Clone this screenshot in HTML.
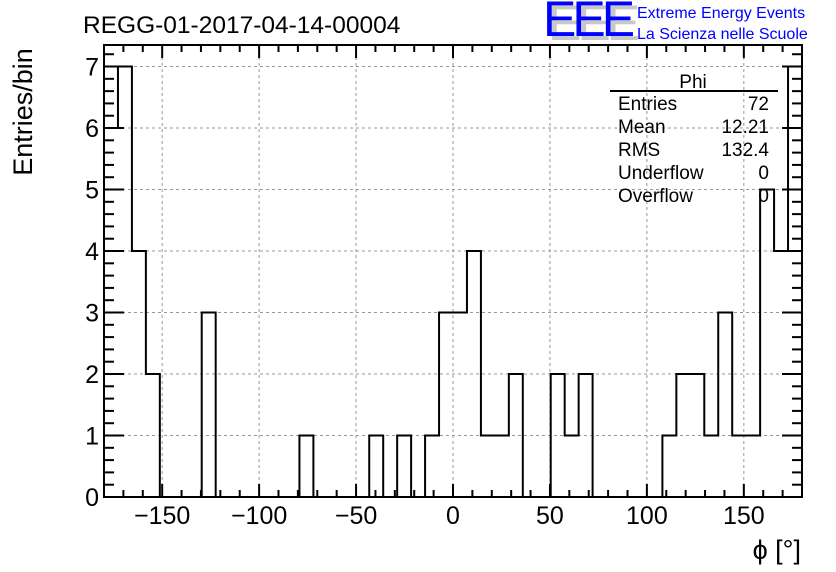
<!DOCTYPE html>
<html><head><meta charset="utf-8"><style>
body{margin:0;background:#fff;}
svg{display:block;font-family:"Liberation Sans",Arial,sans-serif;}
</style></head><body>
<svg id="chart" width="836" height="572" viewBox="0 0 836 572" xmlns="http://www.w3.org/2000/svg">
<rect x="0" y="0" width="836" height="572" fill="#fff"/>
<text x="83" y="33" font-size="24.5" fill="#000">REGG-01-2017-04-14-00004</text>
<g>
<text x="548" y="40" font-size="50" fill="#c8c8c8" letter-spacing="-4">EEE</text>
<text x="543" y="36" font-size="50" fill="#0000ff" letter-spacing="-4">EEE</text>
<text x="637" y="18" font-size="16" fill="#0000ff">Extreme Energy Events</text>
<text x="637" y="39" font-size="16" fill="#0000ff">La Scienza nelle Scuole</text>
</g>
<g id="grid"></g>
<g id="hist"></g>
<rect x="104" y="45" width="698" height="452" fill="none" stroke="#000" stroke-width="2"/>
<g id="axes"></g>
<text transform="translate(32,112) rotate(-90)" text-anchor="middle" font-size="27">Entries/bin</text>
<text x="801" y="559" text-anchor="end" font-size="27">ϕ [°]</text>
<g font-size="19">
<text x="693" y="88" text-anchor="middle">Phi</text>
<line x1="610" y1="91" x2="778" y2="91" stroke="#000" stroke-width="2"/>
<text x="618" y="110">Entries</text><text x="769" y="110" text-anchor="end">72</text>
<text x="618" y="133">Mean</text><text x="769" y="133" text-anchor="end">12.21</text>
<text x="618" y="156">RMS</text><text x="769" y="156" text-anchor="end">132.4</text>
<text x="618" y="179">Underflow</text><text x="769" y="179" text-anchor="end">0</text>
<text x="618" y="202">Overflow</text><text x="769" y="202" text-anchor="end">0</text>
</g>
</svg>
<script>
const binCounts=[6,7,4,2,0,0,0,3,0,0,0,0,0,0,1,0,0,0,0,1,0,1,0,1,3,3,4,1,1,2,0,0,2,1,2,0,0,0,0,0,1,2,2,1,3,1,1,5,4,7];
const xMin=-180, xMax=180;
const yMax=7.35;
const xTickLabels=[-150,-100,-50,0,50,100,150];
const yTickLabels=[0,1,2,3,4,5,6,7];
const NS="http://www.w3.org/2000/svg";
const L=104,R=802,T=45,B=497;
const sx=v=>L+(v-xMin)/(xMax-xMin)*(R-L);
const sy=v=>B-v/yMax*(B-T);
function mk(tag,attrs,parent){const e=document.createElementNS(NS,tag);for(const k in attrs)e.setAttribute(k,attrs[k]);parent.appendChild(e);return e;}
const grid=document.getElementById('grid'),hist=document.getElementById('hist'),axes=document.getElementById('axes');
xTickLabels.forEach(v=>{const l=mk('line',{x1:sx(v),x2:sx(v),y1:T,y2:B,stroke:'#999','stroke-dasharray':'3,3','stroke-width':1},grid);

});
yTickLabels.forEach(v=>{const l=mk('line',{x1:L,x2:R,y1:sy(v),y2:sy(v),stroke:'#999','stroke-dasharray':'3,3','stroke-width':1},grid);

});
const w=(xMax-xMin)/binCounts.length;
let d='M'+sx(xMin)+','+sy(0);
binCounts.forEach((c,i)=>{const x0=sx(xMin+i*w),x1=sx(xMin+(i+1)*w);d+=' L'+x0+','+sy(c)+' L'+x1+','+sy(c);});
d+=' L'+sx(xMax)+','+sy(0);
const p=mk('path',{d:d,fill:'none',stroke:'#000','stroke-width':2},hist);


for(let v=-180;v<=180;v+=10){const major=v%50===0;const len=major?13:7;
const t1=mk('line',{x1:sx(v),x2:sx(v),y1:B,y2:B-len,stroke:'#000','stroke-width':2},axes);


const t2=mk('line',{x1:sx(v),x2:sx(v),y1:T,y2:T+len,stroke:'#000','stroke-width':2},axes);

}
xTickLabels.forEach(v=>{const t=mk('text',{x:sx(v),y:524,'text-anchor':'middle','font-size':25},axes);


t.textContent=v<0?'\u2212'+Math.abs(v):String(v);});
for(let k=0;k<=36;k++){const v=k*0.2;if(v>yMax)break;const major=k%5===0;const len=major?20:10;
const t1=mk('line',{x1:L,x2:L+len,y1:sy(v),y2:sy(v),stroke:'#000','stroke-width':2},axes);


const t2=mk('line',{x1:R,x2:R-len,y1:sy(v),y2:sy(v),stroke:'#000','stroke-width':2},axes);

}
yTickLabels.forEach(v=>{const t=mk('text',{x:99,y:sy(v)+9,'text-anchor':'end','font-size':25},axes);


t.textContent=String(v);});
</script>
</body></html>
